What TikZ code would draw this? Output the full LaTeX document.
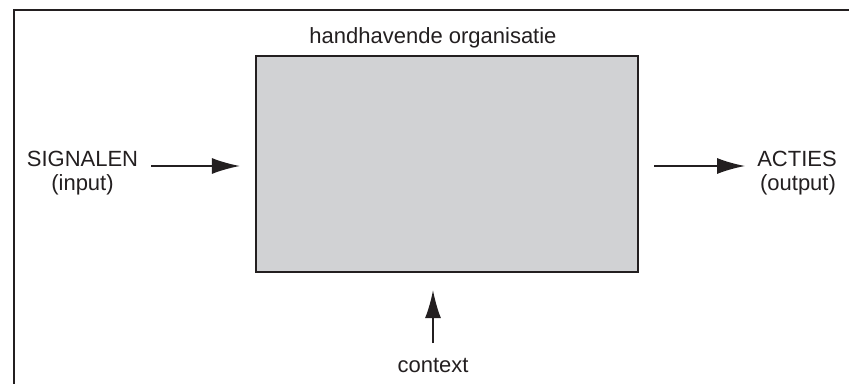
\documentclass[tikz,border=0pt]{standalone}
\usepackage{fontspec}
\setmainfont{Liberation Sans}
\usetikzlibrary{arrows.meta}
\definecolor{ink}{HTML}{231F20}
\definecolor{boxgray}{HTML}{D1D2D4}
\tikzset{
  lbl/.style={inner sep=0pt, anchor=base, text=ink, font=\fontsize{22}{26}\selectfont},
  arr/.style={draw=ink, line width=1.7pt, -{Latex[length=28pt,width=16pt]}},
}
\begin{document}
\begin{tikzpicture}[x=1pt,y=-1pt]
\useasboundingbox (0,0) rectangle (849,383);
\clip (0,0) rectangle (849,383);
\fill[white] (0,0) rectangle (849,383);
\draw[ink, line width=2pt] (14,10) rectangle (880,420);
\node[draw=ink, fill=boxgray, line width=2.2pt, minimum width=382pt, minimum height=216pt, inner sep=0pt] (box) at (447,164) {};
\node[lbl] (title) at (433,43) {handhavende organisatie};
\node[lbl] (sig) at (82.5,166) {SIGNALEN};
\node[lbl] (sigin) at (82.5,190) {(input)};
\node[lbl] (act) at (797,166) {ACTIES};
\node[lbl] (actout) at (798,190) {(output)};
\node[lbl] (ctx) at (433,372) {context};
\coordinate (a1) at (151,166);
\coordinate (a2) at (654,166);
\coordinate (a3) at (433,343);
\draw[arr] (a1) -- ([xshift=-15pt]box.west |- a1);
\draw[arr] (a2) -- ([xshift=-12pt]act.west |- a2);
\draw[arr] (a3) -- ([yshift=-17pt]box.south -| a3);
\end{tikzpicture}
\end{document}
